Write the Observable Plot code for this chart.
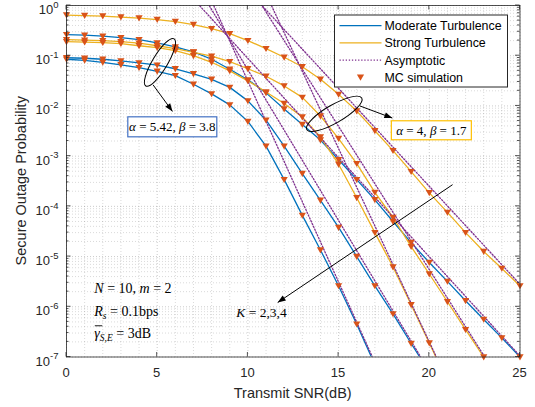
<!DOCTYPE html>
<html>
<head>
<meta charset="utf-8">
<script src="https://cdn.jsdelivr.net/npm/d3@7"></script>
<script src="https://cdn.jsdelivr.net/npm/@observablehq/plot@0.6"></script>
<style>
html,body{margin:0;padding:0;background:#fff;}
#chart svg{display:block;}
</style>
</head>
<body>
<div id="chart"></div>
<script>
// ---------- data ----------
const snr = [0,1,2,3,4,5,6,7,8,9,10,11,12,13,14,15,16,17,18,19,20,21,22,23,24,25];

// Moderate turbulence (alpha=5.42, beta=3.8), K = 2,3,4
const moderateK2 = [0.263,0.257,0.245,0.229,0.209,0.18,0.15,0.119,0.085,0.0537,0.0331,0.0182,0.0087,0.00427,0.00209,8.5e-4,3.4e-4,1.35e-4,5.0e-5,1.9e-5,7.6e-6,3.2e-6,1.32e-6,5.6e-7,2.4e-7,1.0e-7];
const moderateK3 = [0.091,0.089,0.085,0.079,0.072,0.065,0.055,0.0437,0.0339,0.0234,0.0126,5.2e-3,1.58e-3,4.5e-4,1.32e-4,3.8e-5,1.0e-5,2.6e-6,7.2e-7,1.86e-7,5.0e-8];
const moderateK4 = [0.085,0.081,0.074,0.066,0.058,0.049,0.040,0.027,0.0174,0.0105,4.9e-3,1.58e-3,3.4e-4,6.6e-5,1.35e-5,2.6e-6,4.5e-7,7e-8];

// Strong turbulence (alpha=4, beta=1.7), K = 2,3,4
const strongK2 = [0.646,0.631,0.617,0.589,0.562,0.525,0.479,0.417,0.347,0.275,0.2,0.138,0.0933,0.0603,0.0339,0.017,7.9e-3,3.2e-3,1.29e-3,4.9e-4,1.86e-4,7.6e-5,3.0e-5,1.26e-5,5.8e-6,2.6e-6];
const strongK3 = [0.209,0.204,0.2,0.19,0.178,0.158,0.138,0.117,0.098,0.076,0.055,0.039,0.025,0.0148,6.3e-3,2.24e-3,7.1e-4,1.9e-4,6.0e-5,1.58e-5,4.5e-6,1.26e-6,3.5e-7,1.0e-7];
const strongK4 = [0.19,0.186,0.182,0.174,0.158,0.145,0.126,0.1,0.074,0.05,0.0316,0.019,0.0112,6.0e-3,2.4e-3,6.9e-4,1.48e-4,3.0e-5,6.2e-6,1.1e-6,1.9e-7,3.2e-8];

// Asymptotic (straight lines on the log axis): [start, end] SNR and probability
const asymModerateK2 = {snr: [7, 25], p: [1.35, 1.05e-7]};
const asymModerateK3 = {snr: [7, 20], p: [3.3, 5.2e-8]};
const asymModerateK4 = {snr: [7, 17], p: [7.8, 7.8e-8]};
const asymStrongK2   = {snr: [10, 25], p: [2.0, 2.8e-6]};
const asymStrongK3   = {snr: [10, 23.5], p: [2.75, 5.6e-8]};
const asymStrongK4   = {snr: [10, 21], p: [9.95, 3.4e-8]};

// axis ticks and labels
const xTicks = [0,5,10,15,20,25];
const xTickLabels = ["0","5","10","15","20","25"];
const yTicks = [1,1e-1,1e-2,1e-3,1e-4,1e-5,1e-6,1e-7];
const yTickExponents = ["0","-1","-2","-3","-4","-5","-6","-7"];
const legendLabels = ["Moderate Turbulence","Strong Turbulence","Asymptotic","MC simulation"];

// annotation anchors (data coordinates: SNR, probability)
const ellipseModerate = {snr: 5.18, p: 0.072};
const ellipseStrong = {snr: 14.79, p: 6.8e-3};
const arrowModerate = {snr: [4.8, 5.87], p: [0.0257, 7.6e-3]};
const arrowStrong = {snr: [16.19, 17.99], p: [9.8e-3, 5.6e-3]};
const arrowK = {snr: [21.31, 11.67], p: [2.64e-4, 1.19e-6]};
const labelModerate = {snr: 5.86, p: 3.75e-3};
const labelStrong = {snr: 20.14, p: 3.2e-3};
const labelK = {snr: 10.78, p: 7.4e-7};
const paramText = {snr: 1.56, p: [2.25e-6, 7.9e-7, 2.9e-7]};

// ---------- styles ----------
const C = {moderate:"#0072BD", strong:"#EDB120", asym:"#7E2F8E", mc:"#D95319", axis:"#262626"};
const SANS = "'Liberation Sans', Arial, Helvetica, sans-serif";
const SERIF = "'Liberation Serif', 'Times New Roman', serif";

// ---------- tables ----------
const curveDefs = [
  {type:"moderate", K:2, values: moderateK2},
  {type:"moderate", K:3, values: moderateK3},
  {type:"moderate", K:4, values: moderateK4},
  {type:"strong", K:2, values: strongK2},
  {type:"strong", K:3, values: strongK3},
  {type:"strong", K:4, values: strongK4}
];
const curveRows = curveDefs.flatMap(c => c.values.map((p, i) => ({snr: snr[i], p, key: c.type + c.K, type: c.type})));
const modRows = curveRows.filter(d => d.type === "moderate");
const strRows = curveRows.filter(d => d.type === "strong");
const mcRows = curveRows.filter(d => d.p >= 0.99e-7);
const asymDefs = [asymModerateK2, asymModerateK3, asymModerateK4, asymStrongK2, asymStrongK3, asymStrongK4];
const asymRows = asymDefs.flatMap((a, j) => a.snr.map((s, i) => ({snr: s, p: a.p[i], key: j})));

const xMinor = d3.range(0, 26).filter(v => !xTicks.includes(v));
const yMinor = yTicks.slice(1).flatMap(t => [2,3,4,5,6,7,8,9].map(m => m * t));

const triangleDown = {
  draw(ctx, size) {
    const r = Math.sqrt(size / Math.PI);
    ctx.moveTo(0, r * 0.95);
    ctx.lineTo(-r, -r * 0.75);
    ctx.lineTo(r, -r * 0.75);
    ctx.closePath();
  }
};

// ---------- svg helpers ----------
const NS = "http://www.w3.org/2000/svg";
function el(tag, attrs, parent, text) {
  const e = document.createElementNS(NS, tag);
  for (const k in attrs) e.setAttribute(k, attrs[k]);
  if (text != null) e.textContent = text;
  if (parent) parent.appendChild(e);
  return e;
}
function arrow(g, x1, y1, x2, y2) {
  el("line", {x1, y1, x2, y2, stroke:"#000", "stroke-width":1}, g);
  const a = Math.atan2(y2 - y1, x2 - x1), L = 8, W = 3;
  const bx = x2 - L * Math.cos(a), by = y2 - L * Math.sin(a);
  const px = -Math.sin(a) * W, py = Math.cos(a) * W;
  el("polygon", {points: `${x2},${y2} ${bx+px},${by+py} ${bx-px},${by-py}`, fill:"#000"}, g);
}

// axes: inward ticks on all sides, labels, titles
function axesMark(index, scales, values, dim) {
  const {x, y} = scales;
  const L = dim.marginLeft, R = dim.width - dim.marginRight, T = dim.marginTop, B = dim.height - dim.marginBottom;
  const g = el("g", {"text-anchor":"start"});
  const tk = {stroke: C.axis, "stroke-width": 0.8};
  xTicks.forEach((t, i) => {
    const px = x(t);
    el("line", {x1:px, x2:px, y1:B, y2:B-4.5, ...tk}, g);
    el("line", {x1:px, x2:px, y1:T, y2:T+4.5, ...tk}, g);
    el("text", {x:px, y:B+20, "text-anchor":"middle", "font-size":13, fill:C.axis, "font-family":SANS}, g, xTickLabels[i]);
  });
  yTicks.forEach((t, i) => {
    const py = y(t);
    el("line", {x1:L, x2:L+4.5, y1:py, y2:py, ...tk}, g);
    el("line", {x1:R, x2:R-4.5, y1:py, y2:py, ...tk}, g);
    const tx = el("text", {x:L-7.5, y:py+9, "text-anchor":"end", "font-size":13, fill:C.axis, "font-family":SANS}, g, "10");
    el("tspan", {dy:-6.3, "font-size":9.5}, tx, yTickExponents[i]);
  });
  yMinor.forEach(t => {
    const py = y(t);
    el("line", {x1:L, x2:L+2.5, y1:py, y2:py, ...tk}, g);
    el("line", {x1:R, x2:R-2.5, y1:py, y2:py, ...tk}, g);
  });
  el("text", {x:(L+R)/2, y:397.5, "text-anchor":"middle", "font-size":14.5, fill:C.axis, "font-family":SANS}, g, "Transmit SNR(dB)");
  el("text", {transform:`translate(25.5,${(T+B)/2}) rotate(-90)`, "text-anchor":"middle", "font-size":14.5, fill:C.axis, "font-family":SANS}, g, "Secure Outage Probability");
  return g;
}

// annotations: ellipses, arrows, boxed labels, parameter text
function annotationsMark(index, scales, values, dim) {
  const {x, y} = scales;
  const g = el("g", {"text-anchor":"start"});
  const e1x = x(ellipseModerate.snr), e1y = y(ellipseModerate.p);
  el("ellipse", {cx:e1x, cy:e1y, rx:27.5, ry:7.5, transform:`rotate(-59 ${e1x} ${e1y})`, fill:"none", stroke:"#000", "stroke-width":1}, g);
  const e2x = x(ellipseStrong.snr), e2y = y(ellipseStrong.p);
  el("ellipse", {cx:e2x, cy:e2y, rx:31.7, ry:9, transform:`rotate(-30 ${e2x} ${e2y})`, fill:"none", stroke:"#000", "stroke-width":1}, g);
  arrow(g, x(arrowModerate.snr[0]), y(arrowModerate.p[0]), x(arrowModerate.snr[1]), y(arrowModerate.p[1]));
  arrow(g, x(arrowStrong.snr[0]), y(arrowStrong.p[0]), x(arrowStrong.snr[1]), y(arrowStrong.p[1]));
  arrow(g, x(arrowK.snr[0]), y(arrowK.p[0]), x(arrowK.snr[1]), y(arrowK.p[1]));
  const b1x = x(labelModerate.snr), b1y = y(labelModerate.p);
  el("rect", {x:b1x-44.5, y:b1y-10, width:89, height:20, fill:"#fff", stroke:"#4472C4", "stroke-width":1.2}, g);
  const t1 = el("text", {x:b1x, y:b1y+4.5, "text-anchor":"middle", "font-size":13, "font-family":SERIF, fill:"#000"}, g);
  el("tspan", {"font-style":"italic"}, t1, "α");
  el("tspan", {}, t1, " = 5.42, ");
  el("tspan", {"font-style":"italic"}, t1, "β");
  el("tspan", {}, t1, " = 3.8");
  const b2x = x(labelStrong.snr), b2y = y(labelStrong.p);
  el("rect", {x:b2x-40, y:b2y-9.5, width:80, height:19, fill:"#fff", stroke:"#FFC000", "stroke-width":1.2}, g);
  const t2 = el("text", {x:b2x, y:b2y+4.5, "text-anchor":"middle", "font-size":13, "font-family":SERIF, fill:"#000"}, g);
  el("tspan", {"font-style":"italic"}, t2, "α");
  el("tspan", {}, t2, " = 4, ");
  el("tspan", {"font-style":"italic"}, t2, "β");
  el("tspan", {}, t2, " = 1.7");
  const tk = el("text", {x:x(labelK.snr), y:y(labelK.p)+4.5, "text-anchor":"middle", "font-size":13.5, "font-family":SERIF, fill:"#000"}, g);
  el("tspan", {"font-style":"italic"}, tk, "K");
  el("tspan", {}, tk, " = 2,3,4");
  const px = x(paramText.snr);
  const l1 = el("text", {x:px, y:y(paramText.p[0])+4.5, "text-anchor":"start", "font-size":14, "font-family":SERIF, fill:"#000"}, g);
  el("tspan", {"font-style":"italic"}, l1, "N");
  el("tspan", {}, l1, " = 10, ");
  el("tspan", {"font-style":"italic"}, l1, "m");
  el("tspan", {}, l1, " = 2");
  const l2 = el("text", {x:px, y:y(paramText.p[1])+4.5, "text-anchor":"start", "font-size":14, "font-family":SERIF, fill:"#000"}, g);
  el("tspan", {"font-style":"italic"}, l2, "R");
  el("tspan", {"font-style":"italic", "font-size":9.5, dy:3}, l2, "s");
  el("tspan", {dy:-3}, l2, " = 0.1bps");
  const y3 = y(paramText.p[2]) + 4.5;
  const l3 = el("text", {x:px, y:y3, "text-anchor":"start", "font-size":14, "font-family":SERIF, fill:"#000"}, g);
  el("tspan", {"font-style":"italic"}, l3, "γ");
  el("tspan", {"font-style":"italic", "font-size":9.5, dy:3}, l3, "S,E");
  el("tspan", {dy:-3}, l3, " = 3dB");
  el("line", {x1:px+0.5, x2:px+8, y1:y3-12, y2:y3-12, stroke:"#000", "stroke-width":0.9}, g);
  return g;
}

// legend box (top right inside the frame)
function legendMark(index, scales, values, dim) {
  const R = dim.width - dim.marginRight, T = dim.marginTop;
  const g = el("g", {"text-anchor":"start"});
  const bx = R - 185, by = T + 10, bw = 173, bh = 72;
  el("rect", {x:bx, y:by, width:bw, height:bh, fill:"#ffffff", stroke:"#262626", "stroke-width":1}, g);
  const rows = [
    {stroke:C.moderate}, {stroke:C.strong}, {stroke:C.asym, dash:"1.3,1.8"}, {marker:true}
  ];
  rows.forEach((r, i) => {
    const yy = by + 10.7 + i * 17.2;
    if (r.marker) {
      const cx = bx + 26, s = 3.6;
      el("polygon", {points:`${cx},${yy+s*0.95} ${cx-s},${yy-s*0.75} ${cx+s},${yy-s*0.75}`, fill:C.mc}, g);
    } else {
      const a = {x1:bx+5, x2:bx+47, y1:yy, y2:yy, stroke:r.stroke, "stroke-width":1.3};
      if (r.dash) a["stroke-dasharray"] = r.dash;
      el("line", a, g);
    }
    el("text", {x:bx+50, y:yy+4.4, "text-anchor":"start", "font-size":12.4, fill:"#000", "font-family":SANS}, g, legendLabels[i]);
  });
  return g;
}

const chart = Plot.plot({
  width: 535,
  height: 407,
  marginLeft: 66,
  marginRight: 15.5,
  marginTop: 5,
  marginBottom: 50.5,
  style: {background:"#fff", fontFamily: SANS},
  x: {domain:[0, 25], axis:null},
  y: {type:"log", domain:[1e-7, 1], axis:null},
  marks: [
    Plot.ruleX(xMinor, {stroke:C.axis, strokeOpacity:0.22, strokeDasharray:"1,2", strokeWidth:0.8}),
    Plot.ruleY(yMinor, {stroke:C.axis, strokeOpacity:0.22, strokeDasharray:"1,2", strokeWidth:0.8}),
    Plot.ruleX(xTicks, {stroke:C.axis, strokeOpacity:0.3, strokeDasharray:"1,2", strokeWidth:0.8}),
    Plot.ruleY(yTicks, {stroke:C.axis, strokeOpacity:0.3, strokeDasharray:"1,2", strokeWidth:0.8}),
    Plot.line(modRows, {x:"snr", y:"p", z:"key", stroke:C.moderate, strokeWidth:1.3, clip:true}),
    Plot.line(strRows, {x:"snr", y:"p", z:"key", stroke:C.strong, strokeWidth:1.3, clip:true}),
    Plot.line(asymRows, {x:"snr", y:"p", z:"key", stroke:C.asym, strokeWidth:1.3, strokeDasharray:"1.3,1.8", clip:true}),
    Plot.dot(mcRows, {x:"snr", y:"p", symbol:triangleDown, r:3.6, fill:C.mc}),
    Plot.frame({stroke:C.axis, strokeWidth:0.8}),
    axesMark,
    annotationsMark,
    legendMark
  ]
});
document.getElementById("chart").appendChild(chart);
</script>
</body>
</html>
